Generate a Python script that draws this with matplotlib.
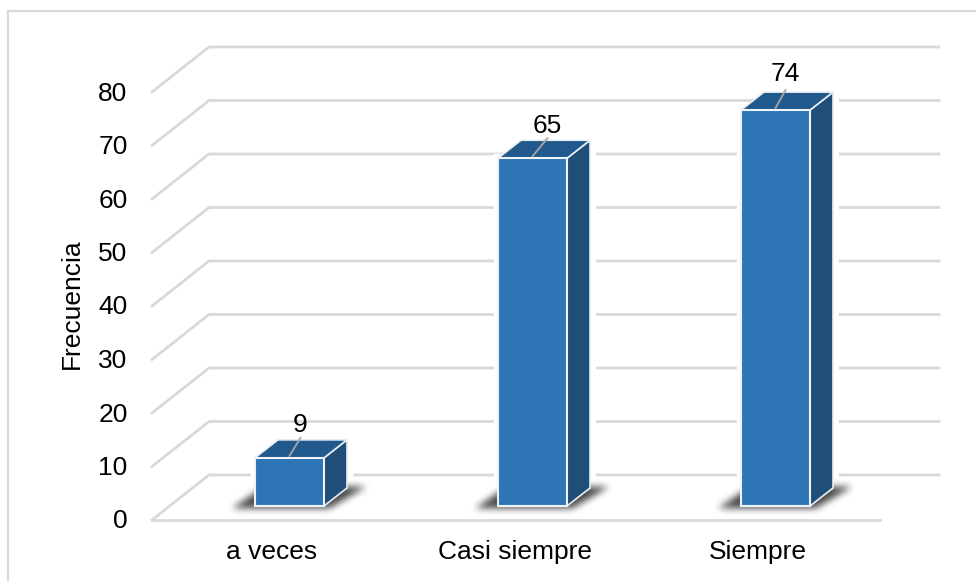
import matplotlib
matplotlib.use("Agg")
import matplotlib.pyplot as plt
import numpy as np
from matplotlib.patches import Polygon, Rectangle
from matplotlib.path import Path

categories = ["a veces", "Casi siempre", "Siempre"]
values = [9, 65, 74]
y_ticks = [0, 10, 20, 30, 40, 50, 60, 70, 80]
y_label = "Frecuencia"

plt.rcParams['font.family'] = ['Liberation Sans', 'DejaVu Sans']

# one unit of x is one category, one unit of y is one unit of frequency
cat_px = 243.0
val_px = 5.35
x0_px = 289.5
y0_px = 520.0

W, H = 976, 581


def dx(px):
    return px / cat_px


def dy(px):
    return px / val_px


def blur(a, n=7, passes=3):
    k = np.ones(n) / n
    for _ in range(passes):
        a = np.apply_along_axis(lambda m: np.convolve(m, k, mode='same'), 0, a)
        a = np.apply_along_axis(lambda m: np.convolve(m, k, mode='same'), 1, a)
    return a


fig = plt.figure(figsize=(9.76, 5.81), dpi=100)
ax = fig.add_axes([0, 0, 1, 1])
xmin, xmax = -x0_px / cat_px, (W - x0_px) / cat_px
ymin, ymax = (y0_px - H) / val_px, y0_px / val_px
ax.axis('off')

grid = '#d9d9d9'

# only the top and left edges of the chart frame show
ax.plot([xmin + dx(8), xmin + dx(8), xmax], [ymin, ymax - dy(11), ymax - dy(11)], color=grid, lw=1.6,
        solid_joinstyle='miter', zorder=1)

left = dx(152 - x0_px)
back_x = dx(209 - x0_px)
right = dx(939 - x0_px)
floor_right = dx(880 - x0_px)
back_y = dy(45)

for t in y_ticks:
    ax.plot([left, back_x, right], [t, t + back_y, t + back_y], color=grid, lw=2,
            solid_joinstyle='miter', zorder=2)
    ax.text(dx(127.5 - x0_px), t + dy(1), str(t), ha='right', va='center_baseline', fontsize=19, color='#000000')
ax.plot([left, floor_right], [0, 0], color=grid, lw=2, zorder=2)

bar_w = dx(69)
base = dy(14)
top_dx = dx(23)
top_dy = dy(18)
face = '#2e75b6'
top_c = '#22598c'
side_c = '#1f4e79'

# value labels sit a little differently on each bar
label_dx = [11, 15, 10]
label_dy = [35, 35, 39]

for i, (cat, v) in enumerate(zip(categories, values)):
    l = i - bar_w / 2
    r = i + bar_w / 2
    b = base
    t = base + v

    # white halo hides the grid right next to the bar
    ax.plot([l, l], [b + top_dy - dy(6), t], color='white', lw=6, zorder=3)
    ax.plot([r + top_dx, r + top_dx], [b + top_dy, t + top_dy], color='white', lw=8, zorder=3)

    # blurred shadow on the floor
    sx = l - dx(45) + np.arange(200) * dx(1)
    sy = b - dy(20) + np.arange(70) * dy(1)
    gx, gy = np.meshgrid(sx, sy)
    outline = Path([(l - dx(24), b - dy(3)), (r + dx(4), b - dy(3)),
                    (r + top_dx + dx(18), b + dy(19)), (l + dx(8), b + dy(19))])
    mask = outline.contains_points(np.c_[gx.ravel(), gy.ravel()]).reshape(gx.shape).astype(float)
    rgba = np.zeros(gx.shape + (4,))
    rgba[..., 3] = blur(mask) * 0.72
    ax.imshow(rgba, extent=[sx[0], sx[-1], sy[0], sy[-1]], origin='lower', aspect='auto',
              interpolation='bilinear', zorder=4)

    ax.add_patch(Polygon([(r, b), (r + top_dx, b + top_dy), (r + top_dx, t + top_dy), (r, t)],
                         closed=True, fc=side_c, ec='#e8eef5', lw=1.2, zorder=5))
    ax.add_patch(Polygon([(l, t), (r, t), (r + top_dx, t + top_dy), (l + top_dx, t + top_dy)],
                         closed=True, fc=top_c, ec='#e8eef5', lw=1.2, zorder=5))
    ax.add_patch(Rectangle((l, b), bar_w, v, fc=face, ec='#eef3f8', lw=1.5, zorder=6))

    # leader line and value label
    ax.plot([i, i + dx(label_dx[i])], [t + dy(2), t + dy(20)], color='#a6a6a6', lw=1.3, zorder=7)
    ax.text(i + dx(label_dx[i]), t + dy(label_dy[i]), str(v), ha='center', va='center_baseline',
            fontsize=19, color='#000000', zorder=8)
    ax.text(i - dx(18), -dy(32), cat, ha='center', va='center', fontsize=19, color='#000000')

ax.text(dx(72 - x0_px), dy(y0_px - 304), y_label, rotation=90, ha='center', va='center',
        fontsize=19, color='#000000')

ax.set_xlim(xmin, xmax)
ax.set_ylim(ymin, ymax)

fig.savefig('out.png', dpi=100)
